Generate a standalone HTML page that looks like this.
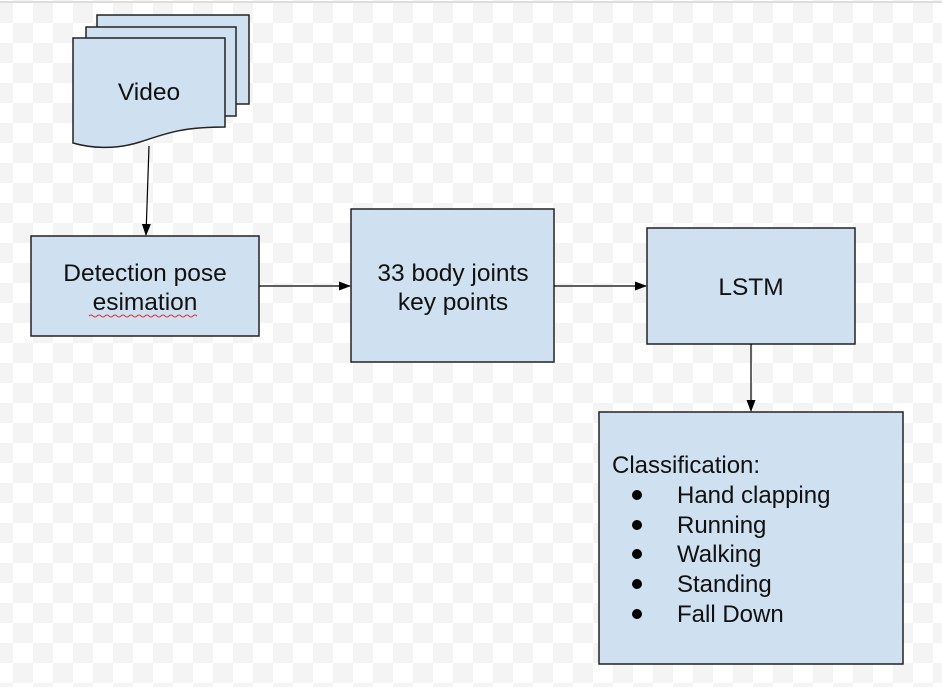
<!DOCTYPE html>
<html><head><style>
body{margin:0;width:942px;height:687px;overflow:hidden;font-family:"Liberation Sans",Arial,sans-serif;
background-color:#fff;
background-image:conic-gradient(#f4f4f4 25%,#fff 25% 50%,#f4f4f4 50% 75%,#fff 75%);
background-size:40px 40px;background-position:13px 3px;}
</style></head><body>
<svg width="942" height="687" style="position:absolute;left:0;top:0">
<defs><marker id="a" markerWidth="12" markerHeight="12" refX="11" refY="6" orient="auto" markerUnits="userSpaceOnUse"><path d="M0,1.5 L12,6 L0,10.5 z" fill="#000"/></marker></defs>
<line x1="0" y1="2" x2="942" y2="2" stroke="#ddd" stroke-width="2"/>
<g fill="#cfe0f1" stroke="#222" stroke-width="1.5">
<rect x="97" y="15" width="152" height="89"/>
<rect x="86" y="27" width="150" height="89"/>
<path d="M73,38 H225 V127 C180,127 165,134 140,142 C115,150 90,148 73,143 Z"/>
<rect x="31" y="236" width="228" height="100"/>
<rect x="351" y="209" width="203" height="153"/>
<rect x="647" y="228" width="208" height="116"/>
<rect x="599" y="412" width="304" height="252"/>
</g>
<g stroke="#000" stroke-width="1.2" marker-end="url(#a)">
<line x1="149" y1="146" x2="146" y2="235"/>
<line x1="259" y1="286" x2="350" y2="286"/>
<line x1="554" y1="286" x2="646" y2="286"/>
<line x1="751" y1="344" x2="751" y2="411"/>
</g>
<g font-family="Liberation Sans,Arial,sans-serif" font-size="24.5" fill="#111" text-anchor="middle">
<text x="149" y="100">Video</text>
<text x="145" y="281">Detection pose</text>
<text x="145" y="310">esimation</text>
<text x="453" y="281">33 body joints</text>
<text x="453" y="310">key points</text>
<text x="751" y="295">LSTM</text>
</g>
<path d="M89,316 q2,-2 4,0 t4,0 t4,0 t4,0 t4,0 t4,0 t4,0 t4,0 t4,0 t4,0 t4,0 t4,0 t4,0 t4,0 t4,0 t4,0 t4,0 t4,0 t4,0 t4,0 t4,0 t4,0 t4,0 t4,0 t4,0 t4,0 t4,0" fill="none" stroke="#d33" stroke-width="1"/>
<g font-family="Liberation Sans,Arial,sans-serif" font-size="24" fill="#111">
<text x="612" y="473">Classification:</text>
<text x="677" y="503">Hand clapping</text>
<text x="677" y="533">Running</text>
<text x="677" y="562">Walking</text>
<text x="677" y="592">Standing</text>
<text x="677" y="622">Fall Down</text>
</g>
<g fill="#000">
<circle cx="637" cy="495" r="5"/><circle cx="637" cy="525" r="5"/><circle cx="637" cy="554" r="5"/><circle cx="637" cy="584" r="5"/><circle cx="637" cy="614" r="5"/>
</g>
</svg>
</body></html>
